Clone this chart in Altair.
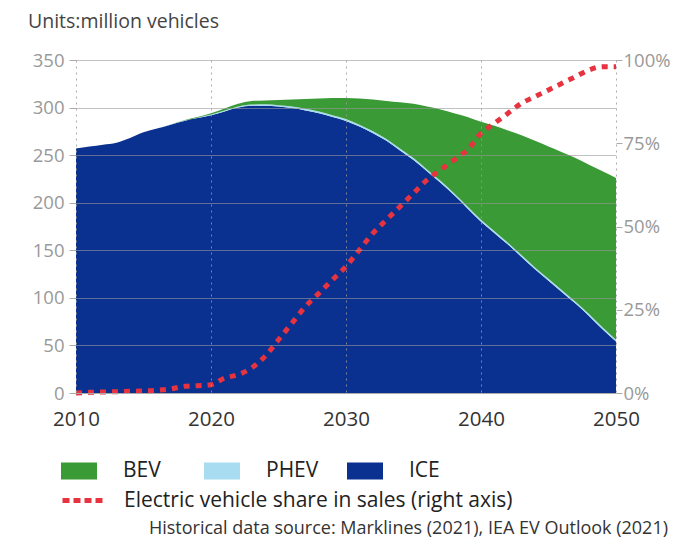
import altair as alt
import pandas as pd

years = list(range(2010, 2051))
ice = [257, 259, 261, 263, 268, 274, 278, 282, 286, 289,
       292, 296, 300, 302, 302, 301, 299.5, 297, 294, 290,
       286, 280, 273, 265, 255, 245, 233, 221, 208, 194,
       180, 168, 156, 143, 130, 118, 106, 94, 81, 67, 54]
phev = [0, 0, 0, 0, 0, 0, 0, 0.2, 0.3, 0.4,
        0.6, 0.8, 1.0, 1.2, 1.4, 1.5, 1.6, 1.7, 1.8, 1.9,
        2, 2, 2, 2, 2, 2, 2, 2, 2, 2,
        2, 2, 2, 2, 2, 2, 2, 2, 2, 2, 2]
bev = [0, 0, 0, 0, 0, 0, 0, 0, 0.3, 0.6,
       1.4, 2.2, 3.0, 3.8, 4.1, 5.5, 7.4, 10.3, 13.7, 18.1,
       22, 27.5, 33.5, 40, 48.5, 57, 66, 75, 84, 94,
       103, 111, 118, 126, 133, 139, 145, 151, 157, 164, 170]
ev_share_pct = [0, 0.2, 0.3, 0.4, 0.5, 0.6, 0.8, 1.2, 2, 2.2,
                2.5, 4.5, 5.5, 7.5, 11, 16, 21, 26, 30, 34,
                38, 43, 48, 52, 56, 60, 64, 67, 70, 73,
                78, 81, 84, 87, 89, 91, 93, 95, 97, 98, 98]

types = ["BEV", "PHEV", "ICE"]
type_colors = ["#3a9a36", "#a8dcf0", "#0a318f"]
line_name = "Electric vehicle share in sales (right axis)"
line_color = "#e6333f"
title_text = "Units:million vehicles"
footnote = "Historical data source: Marklines (2021), IEA EV Outlook (2021)"

rows = []
for i, yr in enumerate(years):
    rows.append({"year": yr, "type": "ICE", "value": ice[i], "ord": 0})
    rows.append({"year": yr, "type": "PHEV", "value": phev[i], "ord": 1})
    rows.append({"year": yr, "type": "BEV", "value": bev[i], "ord": 2})
area_df = pd.DataFrame(rows)
line_df = pd.DataFrame({"year": years,
                        "share": [v / 100 for v in ev_share_pct],
                        "series": [line_name] * len(years)})

FONT = "Open Sans"

x_enc = alt.X("year:Q",
              scale=alt.Scale(domain=[2010, 2050], nice=False, zero=False),
              axis=alt.Axis(values=[2010, 2020, 2030, 2040, 2050], format="d",
                            title=None, grid=True, gridDash=[2, 4],
                            gridColor="#9a9a9a", gridOpacity=0.8,
                            ticks=False, domain=True, domainColor="#aaaaaa",
                            labelFontSize=20.5, labelColor="#333333",
                            labelFont=FONT, labelPadding=16, labelFlush=False,
                            zindex=1))

areas = alt.Chart(area_df).mark_area(interpolate="monotone").encode(
    x=x_enc,
    y=alt.Y("value:Q", stack="zero",
            scale=alt.Scale(domain=[0, 350], nice=False),
            axis=alt.Axis(values=list(range(0, 351, 50)), title=None,
                          grid=True, gridColor="#999999", gridOpacity=0.6,
                          domain=False, ticks=True, tickSize=7,
                          tickColor="#aaaaaa", labelColor="#999999",
                          labelFontSize=18.5, labelFont=FONT, labelPadding=5,
                          zindex=1)),
    color=alt.Color("type:N",
                    scale=alt.Scale(domain=types, range=type_colors),
                    legend=alt.Legend(orient="none", legendX=-15, legendY=393,
                                      direction="horizontal", columns=3,
                                      title=None, gridAlign="all",
                                      symbolType="M-1,-0.47H1V0.47H-1Z",
                                      symbolSize=1296, symbolStrokeWidth=0,
                                      symbolOpacity=1,
                                      labelFontSize=21, labelFont=FONT,
                                      labelColor="#222222", labelOffset=26,
                                      columnPadding=28)),
    order=alt.Order("ord:Q"),
)

line = alt.Chart(line_df).mark_line(
    interpolate="monotone", strokeWidth=5, strokeDash=[6, 6], strokeCap="butt"
).encode(
    x=x_enc,
    y=alt.Y("share:Q",
            scale=alt.Scale(domain=[0, 1], nice=False),
            axis=alt.Axis(orient="right", values=[0, 0.25, 0.5, 0.75, 1],
                          format=".0%", title=None, grid=False, domain=False,
                          ticks=True, tickSize=6, tickColor="#aaaaaa",
                          labelColor="#999999", labelFontSize=18.5,
                          labelFont=FONT, labelPadding=1)),
    stroke=alt.Stroke("series:N",
                      scale=alt.Scale(domain=[line_name], range=[line_color]),
                      legend=alt.Legend(orient="none", legendX=-16, legendY=418,
                                        title=None, symbolType="stroke",
                                        symbolSize=1600, symbolStrokeWidth=5,
                                        symbolDash=[7, 4],
                                        labelFontSize=21, labelFont=FONT,
                                        labelColor="#222222", labelOffset=19,
                                        labelLimit=600)),
)

title = alt.Chart(pd.DataFrame({"t": [title_text]})).mark_text(
    align="left", baseline="middle", fontSize=19.5, font=FONT, color="#444444"
).encode(text="t:N", x=alt.value(-48), y=alt.value(-38))

foot = alt.Chart(pd.DataFrame({"t": [footnote]})).mark_text(
    align="right", baseline="middle", fontSize=18, font=FONT, color="#333333"
).encode(text="t:N", x=alt.value(592), y=alt.value(469))

chart = alt.layer(areas, line, title, foot).resolve_scale(
    y="independent", color="independent", stroke="independent"
).properties(
    width=540, height=333,
    autosize=alt.AutoSizeParams(type="none"),
    padding={"left": 68, "top": 52, "right": 58, "bottom": 146},
).configure_view(stroke=None)

chart.save("out.html", embed_options={"renderer": "svg", "actions": False})
